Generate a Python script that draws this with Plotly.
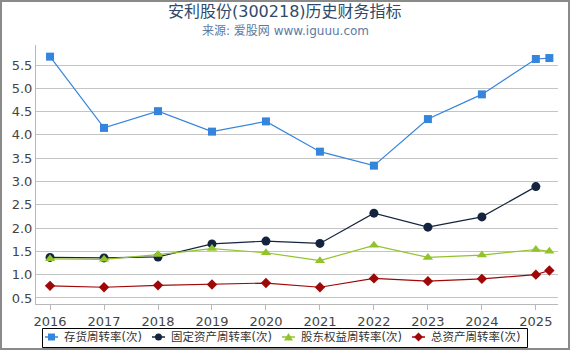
import plotly.graph_objects as go

years = [2016, 2017, 2018, 2019, 2020, 2021, 2022, 2023, 2024, 2025, 2025.25]
tick_years = [2016, 2017, 2018, 2019, 2020, 2021, 2022, 2023, 2024, 2025]

inventory_turnover = [5.68, 4.15, 4.51, 4.07, 4.29, 3.64, 3.34, 4.34, 4.87, 5.63, 5.65]
fixed_asset_turnover = [1.37, 1.36, 1.38, 1.66, 1.72, 1.67, 2.32, 2.02, 2.24, 2.89, None]
equity_turnover = [1.34, 1.33, 1.43, 1.56, 1.47, 1.30, 1.63, 1.37, 1.42, 1.54, 1.50]
total_asset_turnover = [0.76, 0.73, 0.77, 0.79, 0.82, 0.73, 0.92, 0.86, 0.91, 1.00, 1.09]

names = ["存货周转率(次)", "固定资产周转率(次)", "股东权益周转率(次)", "总资产周转率(次)"]
series = [inventory_turnover, fixed_asset_turnover, equity_turnover, total_asset_turnover]
colors = ["#3585dd", "#14243e", "#93c32c", "#a00808"]
symbols = ["square", "circle", "triangle-up", "diamond"]
sizes = [8, 9, 9, 8]

FONT = "DejaVu Sans, Noto Sans CJK SC, sans-serif"

W, H = 570, 350
ml, mr, mt, mb = 36, 12, 45, 46
pw, ph = W - ml - mr, H - mt - mb


def px(x):
    return (x - ml) / pw


def py(y):
    return (H - mb - y) / ph


fig = go.Figure()
for n, s, c, sym, sz in zip(names, series, colors, symbols, sizes):
    fig.add_trace(go.Scatter(
        x=years, y=s, name=n, mode="lines+markers",
        line=dict(color=c, width=1.2),
        marker=dict(symbol=sym, size=sz, color=c),
        connectgaps=False, showlegend=False,
    ))

fig.update_layout(
    width=W, height=H,
    margin=dict(l=ml, r=mr, t=mt, b=mb, autoexpand=False),
    paper_bgcolor="white", plot_bgcolor="white",
    font=dict(family=FONT, size=13, color="#444"),
    showlegend=False,
    xaxis=dict(
        range=[2015.74, 2025.41],
        tickvals=tick_years, ticktext=[str(y) for y in tick_years],
        showgrid=False, showline=True, linecolor="#b8b8b8", linewidth=1,
        ticks="outside", ticklen=5, tickcolor="#b8b8b8",
        tickfont=dict(size=13, color="#444"), zeroline=False,
    ),
    yaxis=dict(
        range=[0.37, 5.93],
        tickvals=[0.5, 1.0, 1.5, 2.0, 2.5, 3.0, 3.5, 4.0, 4.5, 5.0, 5.5],
        ticktext=["0.5", "1.0", "1.5", "2.0", "2.5", "3.0", "3.5", "4.0", "4.5", "5.0", "5.5"],
        showgrid=True, gridcolor="#c4c4c4", gridwidth=1,
        showline=True, linecolor="#b8b8b8", linewidth=1,
        ticks="", tickfont=dict(size=13, color="#444"), zeroline=False,
    ),
)

annotations = [
    dict(text="安利股份(300218)历史财务指标", x=px(285), y=py(11.5), xref="paper", yref="paper",
         xanchor="center", yanchor="middle", showarrow=False,
         font=dict(family=FONT, size=16, color="#2e4a6b")),
    dict(text="来源: 爱股网 www.iguuu.com", x=px(285), y=py(31), xref="paper", yref="paper",
         xanchor="center", yanchor="middle", showarrow=False,
         font=dict(family=FONT, size=12, color="#5b7ba3")),
]

shapes = [
    # outer frame
    dict(type="rect", xref="paper", yref="paper",
         x0=px(1), x1=px(569), y0=py(349), y1=py(1),
         line=dict(color="#8a8a8a", width=2), layer="below"),
    # legend box
    dict(type="rect", xref="paper", yref="paper",
         x0=px(42.5), x1=px(527.5), y0=py(347.5), y1=py(328.5),
         line=dict(color="#000", width=1), fillcolor="white", layer="above"),
]

# custom legend entries
legend_line_start = [45, 152, 282, 412]
ly = 337
for i, (n, c, sym) in enumerate(zip(names, colors, symbols)):
    x0 = legend_line_start[i]
    cx = x0 + 6.5
    shapes.append(dict(type="line", xref="paper", yref="paper",
                       x0=px(x0), x1=px(x0 + 13), y0=py(ly), y1=py(ly),
                       line=dict(color=c, width=1.5), layer="above"))
    r = 3.5
    if sym == "square":
        shapes.append(dict(type="rect", xref="paper", yref="paper",
                           x0=px(cx - r), x1=px(cx + r), y0=py(ly + r), y1=py(ly - r),
                           line=dict(width=0), fillcolor=c, layer="above"))
    elif sym == "circle":
        shapes.append(dict(type="circle", xref="paper", yref="paper",
                           x0=px(cx - r), x1=px(cx + r), y0=py(ly + r), y1=py(ly - r),
                           line=dict(width=0), fillcolor=c, layer="above"))
    elif sym == "triangle-up":
        path = "M {} {} L {} {} L {} {} Z".format(
            px(cx), py(ly - 4), px(cx + 4.5), py(ly + 3.5), px(cx - 4.5), py(ly + 3.5))
        shapes.append(dict(type="path", xref="paper", yref="paper", path=path,
                           line=dict(width=0), fillcolor=c, layer="above"))
    else:
        path = "M {} {} L {} {} L {} {} L {} {} Z".format(
            px(cx), py(ly - 4.5), px(cx + 4.5), py(ly), px(cx), py(ly + 4.5), px(cx - 4.5), py(ly))
        shapes.append(dict(type="path", xref="paper", yref="paper", path=path,
                           line=dict(width=0), fillcolor=c, layer="above"))
    annotations.append(dict(text=n, x=px(x0 + 17), y=py(ly), xref="paper", yref="paper",
                            xanchor="left", yanchor="middle", showarrow=False,
                            font=dict(family=FONT, size=11.5, color="#333")))

fig.update_layout(annotations=annotations, shapes=shapes)

fig.write_html("out.html")
